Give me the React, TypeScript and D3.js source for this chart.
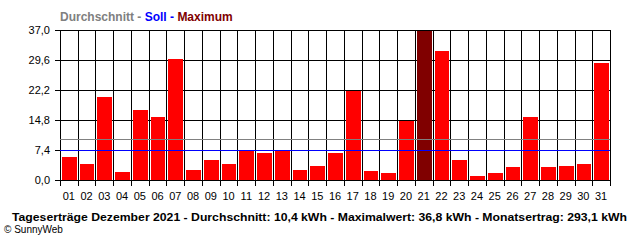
import React from "react";
import * as d3 from "d3";

const days = ["01","02","03","04","05","06","07","08","09","10","11","12","13","14","15","16","17","18","19","20","21","22","23","24","25","26","27","28","29","30","31"];
const values = [5.75,4.0,20.5,2.05,17.3,15.5,29.85,2.55,5.0,4.0,7.3,6.7,7.3,2.55,3.5,6.7,22.0,2.2,1.7,14.6,36.8,31.8,4.9,1.05,1.7,3.2,15.5,3.2,3.5,3.95,28.9];
const yTicks = [0, 7.4, 14.8, 22.2, 29.6, 37.0];
const averageValue = 10.2;
const targetValue = 7.4;
const maxValue = 36.8;
const legendParts = [
  { text: "Durchschnitt", color: "#808080" },
  { text: " - ", color: "#808080" },
  { text: "Soll", color: "#0000FF" },
  { text: " - ", color: "#0000FF" },
  { text: "Maximum", color: "#800000" },
];
const titleText = "Tageserträge Dezember 2021 - Durchschnitt: 10,4 kWh - Maximalwert: 36,8 kWh - Monatsertrag: 293,1 kWh";
const copyrightText = "© SunnyWeb";

export default function App() {
  const W = 640, H = 240;
  const left = 60, right = 610, top = 30, bottom = 180;
  const x = d3.scaleBand<string>().domain(days).range([left, right]).padding(0);
  const y = d3.scaleLinear().domain([0, 37]).range([bottom, top]);
  const bw = x.bandwidth();
  const fmt = (v: number) => v.toFixed(1).replace(".", ",");
  const crisp = (v: number) => Math.round(v) + 0.5;
  const slotEdges = days.map((d) => x(d) as number).concat([right]);
  const y0 = Math.round(y(0));

  return (
    <svg width={W} height={H} style={{ position: "absolute", left: 0, top: 0, background: "#fff" }}
      fontFamily="'Liberation Sans', Arial, sans-serif">
      <rect x={0} y={0} width={W} height={H} fill="#fff" />
      {/* legend */}
      <text x={60} y={20.5} fontSize={12} fontWeight="bold">
        {legendParts.map((p, i) => (
          <tspan key={i} fill={p.color} style={{ whiteSpace: "pre" }}>{p.text}</tspan>
        ))}
      </text>
      {/* horizontal grid lines + ticks */}
      {yTicks.map((t) => (
        <g key={t}>
          <line x1={55} x2={right + 1} y1={crisp(y(t))} y2={crisp(y(t))} stroke="#000" strokeWidth={1} />
          <text x={50} y={y(t) + 4} fontSize={11} textAnchor="end" fill="#000">{fmt(t)}</text>
        </g>
      ))}
      {/* vertical grid lines + ticks */}
      {slotEdges.map((e, i) => (
        <line key={i} x1={crisp(e)} x2={crisp(e)} y1={top} y2={bottom + 6} stroke="#000" strokeWidth={1} />
      ))}
      {/* bars */}
      {values.map((v, i) => {
        const a = Math.round(x(days[i]) as number);
        const b = Math.round((x(days[i]) as number) + bw);
        const t = Math.round(y(v));
        return (
          <rect key={i} x={a + 2} width={b - a - 3} y={t} height={y0 - t}
            fill={v === maxValue ? "#800000" : "#FF0000"} shapeRendering="crispEdges" />
        );
      })}
      {/* average and target lines */}
      <line x1={left} x2={right} y1={crisp(y(averageValue))} y2={crisp(y(averageValue))} stroke="#808080" strokeWidth={1} />
      <line x1={left} x2={right} y1={crisp(y(targetValue))} y2={crisp(y(targetValue))} stroke="#0000FF" strokeWidth={1} />
      {/* x labels */}
      {days.map((d) => (
        <text key={d} x={(x(d) as number) + bw / 2} y={200} fontSize={11} textAnchor="middle" fill="#000">{d}</text>
      ))}
      <text x={12} y={220.5} fontSize={11} fontWeight="bold" textLength={615} lengthAdjust="spacingAndGlyphs" fill="#000">{titleText}</text>
      <text x={4} y={233} fontSize={10} fill="#000">{copyrightText}</text>
    </svg>
  );
}
